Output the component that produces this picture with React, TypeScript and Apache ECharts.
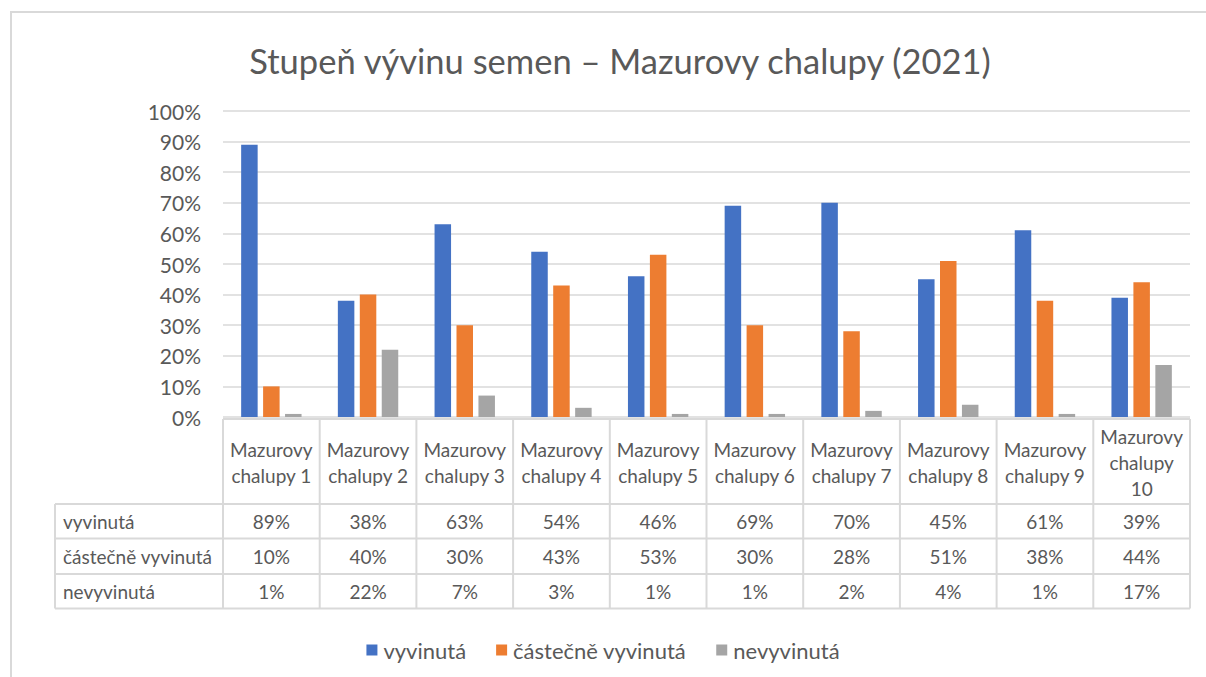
import React, { useEffect, useRef } from "react";
import * as echarts from "echarts";

const categories = [
  "Mazurovy chalupy 1",
  "Mazurovy chalupy 2",
  "Mazurovy chalupy 3",
  "Mazurovy chalupy 4",
  "Mazurovy chalupy 5",
  "Mazurovy chalupy 6",
  "Mazurovy chalupy 7",
  "Mazurovy chalupy 8",
  "Mazurovy chalupy 9",
  "Mazurovy chalupy 10",
];
const seriesNames = ["vyvinutá", "částečně vyvinutá", "nevyvinutá"];
const vyvinuta = [89, 38, 63, 54, 46, 69, 70, 45, 61, 39];
const castecne = [10, 40, 30, 43, 53, 30, 28, 51, 38, 44];
const nevyvinuta = [1, 22, 7, 3, 1, 1, 2, 4, 1, 17];
const yTicks = [0, 10, 20, 30, 40, 50, 60, 70, 80, 90, 100];

const COLORS = ["#4472C4", "#ED7D31", "#A5A5A5"];
const TEXT = "#595959";
const LINE = "#D9D9D9";
const FONT = "Lato, 'Noto Sans', sans-serif";

const GRID_LEFT = 223;
const GRID_RIGHT_X = 1190;
const GRID_TOP = 111;
const GRID_BOTTOM_Y = 417;

function wrapName(name: string): string {
  const parts = name.split(" ");
  if (name.length > 18) return parts.join("\n");
  return parts[0] + "\n" + parts.slice(1).join(" ");
}

export default function App() {
  const ref = useRef<HTMLDivElement>(null);
  useEffect(() => {
    document.body.style.margin = "0";
    const chart = echarts.init(ref.current!, null, { renderer: "svg" });
    const n = categories.length;
    const colW = (GRID_RIGHT_X - GRID_LEFT) / n;
    const tTop = 419;
    const rowY = [504, 538.5, 574, 608.5];
    const labelLeft = 55;
    const rows = [vyvinuta, castecne, nevyvinuta];

    const graphics: any[] = [];
    graphics.push({
      type: "rect",
      shape: { x: 11, y: 12, width: 1300, height: 800 },
      style: { fill: "none", stroke: LINE, lineWidth: 2 },
      silent: true,
    });
    const lineStyle = { stroke: LINE, lineWidth: 2 };
    graphics.push({ type: "line", shape: { x1: GRID_LEFT, y1: tTop, x2: GRID_RIGHT_X, y2: tTop }, style: lineStyle });
    rowY.forEach((y) =>
      graphics.push({ type: "line", shape: { x1: labelLeft, y1: y, x2: GRID_RIGHT_X, y2: y }, style: lineStyle })
    );
    graphics.push({ type: "line", shape: { x1: labelLeft, y1: rowY[0], x2: labelLeft, y2: rowY[3] }, style: lineStyle });
    for (let i = 0; i <= n; i++) {
      const x = GRID_LEFT + i * colW;
      graphics.push({ type: "line", shape: { x1: x, y1: tTop, x2: x, y2: rowY[3] }, style: lineStyle });
    }
    categories.forEach((c, i) => {
      graphics.push({
        type: "text",
        x: GRID_LEFT + (i + 0.5) * colW,
        y: (tTop + rowY[0]) / 2 + 1,
        style: {
          text: wrapName(c),
          fill: TEXT,
          font: `19px ${FONT}`,
          lineHeight: 26,
          align: "center",
          verticalAlign: "middle",
        },
      });
    });
    rows.forEach((vals, r) => {
      const cy = (rowY[r] + rowY[r + 1]) / 2;
      graphics.push({
        type: "text",
        x: labelLeft + 8,
        y: cy,
        style: { text: seriesNames[r], fill: TEXT, font: `19px ${FONT}`, align: "left", verticalAlign: "middle" },
      });
      vals.forEach((v, i) => {
        graphics.push({
          type: "text",
          x: GRID_LEFT + (i + 0.5) * colW,
          y: cy,
          style: { text: `${v}%`, fill: TEXT, font: `19px ${FONT}`, align: "center", verticalAlign: "middle" },
        });
      });
    });

    chart.setOption({
      animation: false,
      backgroundColor: "#ffffff",
      title: {
        text: "Stupeň vývinu semen – Mazurovy chalupy (2021)",
        left: 615,
        textAlign: "center",
        top: 38,
        textStyle: { color: TEXT, fontSize: 34.5, fontWeight: "normal", fontFamily: FONT },
      },
      legend: {
        data: seriesNames,
        left: "center",
        top: 634,
        itemWidth: 11,
        itemHeight: 11,
        itemGap: 30,
        icon: "rect",
        textStyle: { color: TEXT, fontSize: 22, fontFamily: FONT, padding: [0, 0, 0, 1] },
      },
      grid: {
        left: GRID_LEFT,
        right: 1206 - GRID_RIGHT_X,
        top: GRID_TOP,
        bottom: 677 - GRID_BOTTOM_Y,
        containLabel: false,
      },
      xAxis: {
        type: "category",
        data: categories,
        axisLine: { show: false },
        axisTick: { show: false },
        axisLabel: { show: false },
      },
      yAxis: {
        type: "value",
        min: yTicks[0],
        max: yTicks[yTicks.length - 1],
        interval: 10,
        axisLine: { show: false },
        axisTick: { show: false },
        axisLabel: {
          formatter: "{value}%",
          color: TEXT,
          fontSize: 21,
          fontFamily: FONT,
          margin: 22,
        },
        splitLine: { lineStyle: { color: LINE, width: 1.5 } },
      },
      series: [vyvinuta, castecne, nevyvinuta].map((d, i) => ({
        name: seriesNames[i],
        type: "bar",
        data: d,
        barWidth: 16.5,
        barGap: "33%",
        itemStyle: { color: COLORS[i] },
      })),
      graphic: graphics,
    });
    return () => chart.dispose();
  }, []);
  return <div ref={ref} style={{ width: 1206, height: 677, position: "absolute", left: 0, top: 0 }} />;
}
